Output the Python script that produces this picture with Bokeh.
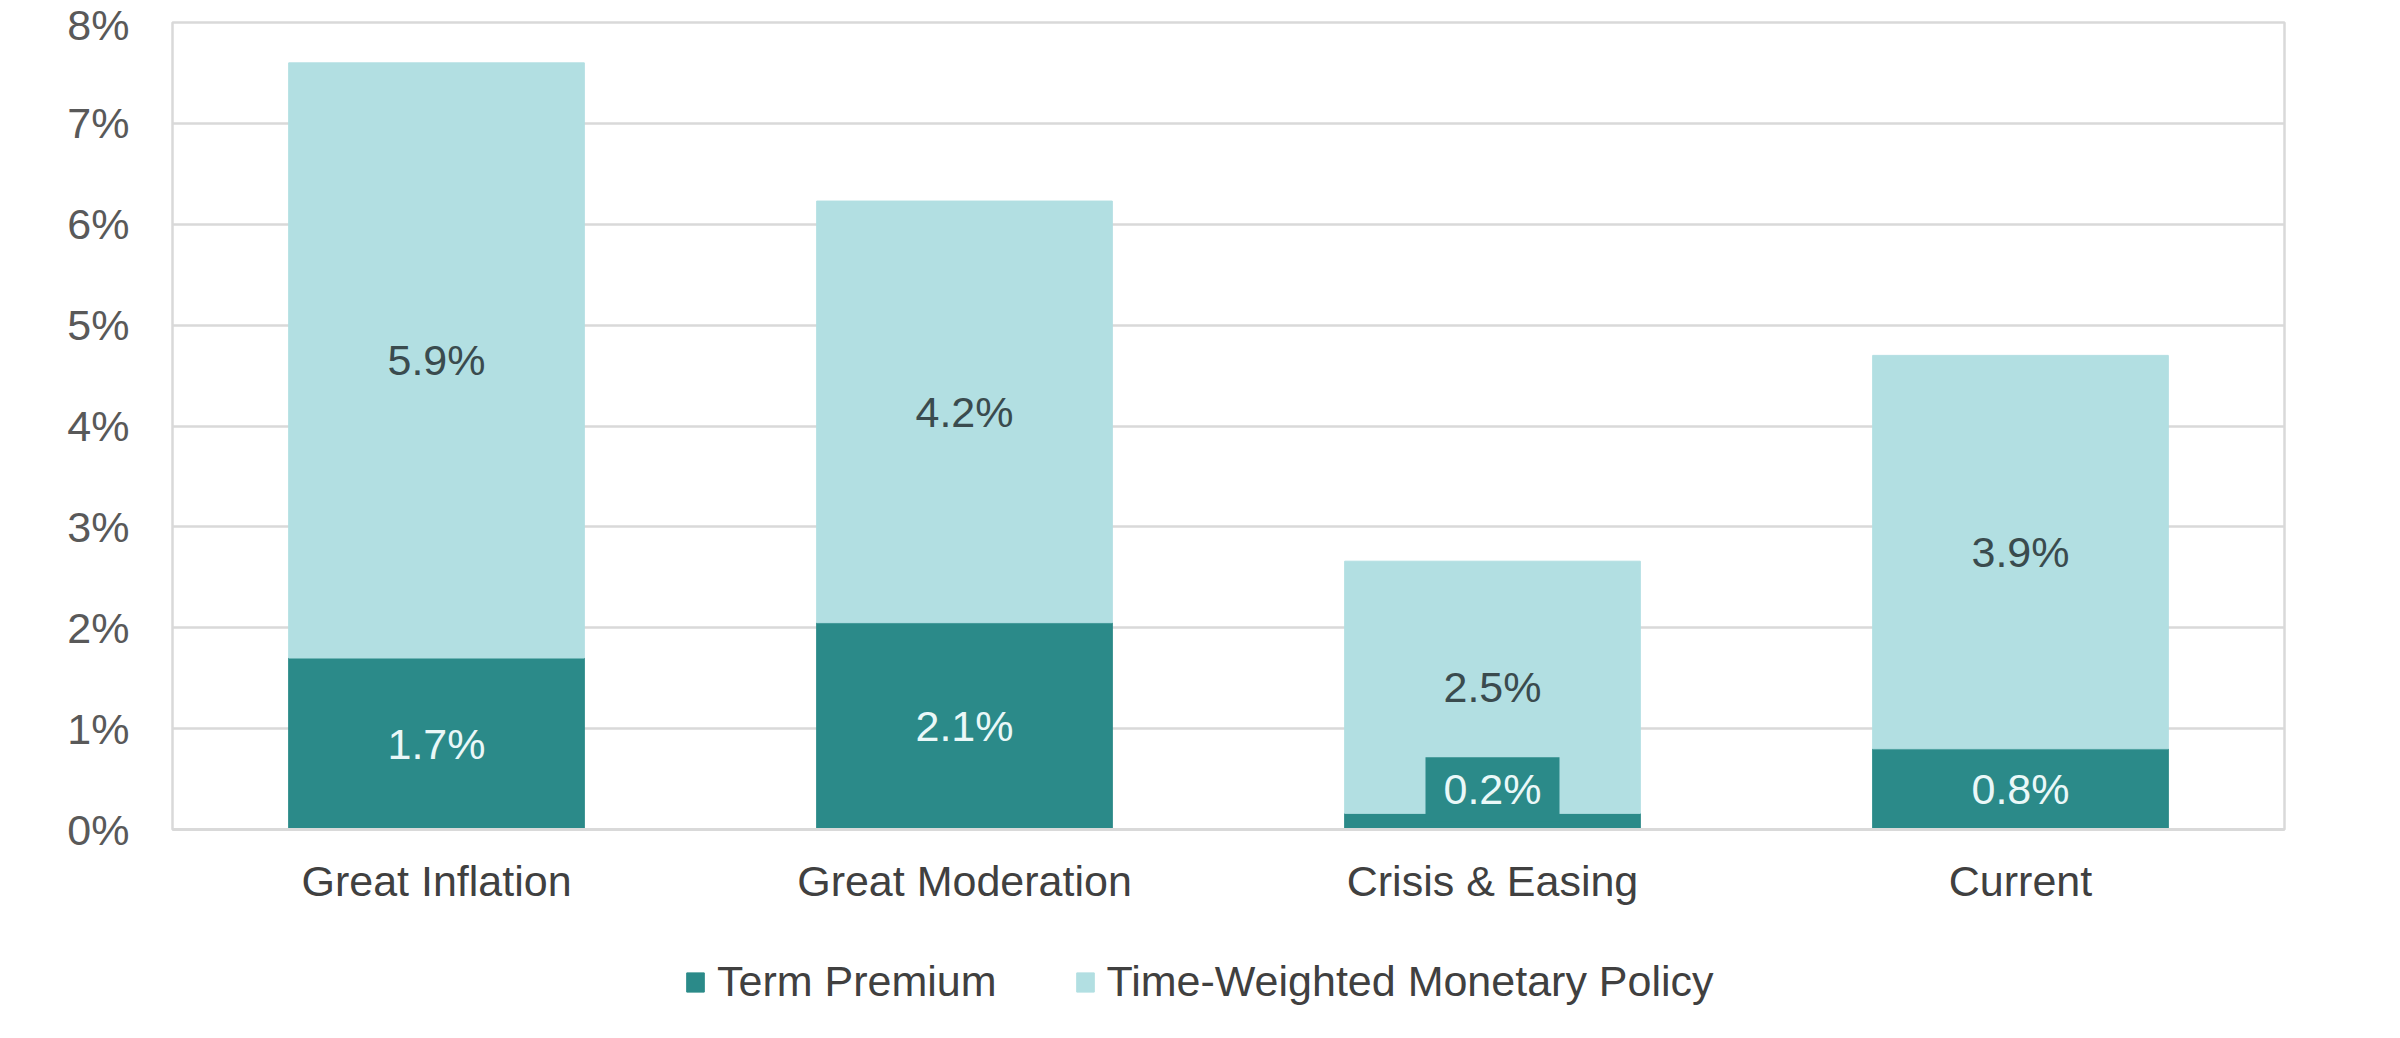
from bokeh.plotting import figure
from bokeh.layouts import column
from bokeh.models import (ColumnDataSource, Legend, LegendItem, FactorRange, Range1d,
                          PrintfTickFormatter, FixedTicker)
from bokeh.embed import file_html
from bokeh.resources import INLINE
from bokeh.core.properties import value

# ---- data ----
categories = ["Great Inflation", "Great Moderation", "Crisis & Easing", "Current"]
term_premium = [1.7, 2.05, 0.16, 0.8]
monetary_policy = [5.9, 4.18, 2.5, 3.9]
term_labels = ["1.7%", "2.1%", "0.2%", "0.8%"]
policy_labels = ["5.9%", "4.2%", "2.5%", "3.9%"]
series_names = ["Term Premium", "Time-Weighted Monetary Policy"]
y_ticks = [0, 1, 2, 3, 4, 5, 6, 7, 8]

# ---- style ----
DARK = "#2B8A89"
LIGHT = "#B2DFE2"
GRID = "#D9D9D9"
FONT = "Liberation Sans"
FS = "43px"
MIN_LABEL_Y = 0.4
W = 2384

src = ColumnDataSource(dict(cat=categories, term=term_premium, policy=monetary_policy))

p = figure(width=W, height=929, x_range=FactorRange(*categories), y_range=Range1d(0, 8),
           output_backend="svg", toolbar_location=None,
           min_border_left=172, min_border_right=100, min_border_top=22, min_border_bottom=100)

renderers = p.vbar_stack(["term", "policy"], x="cat", width=0.56, source=src,
                         fill_color=[DARK, LIGHT], line_color=[DARK, LIGHT], line_width=1)

# label box for segments too small to hold their label
small_idx = [i for i, t in enumerate(term_premium) if t / 2 < MIN_LABEL_Y]
box_src = ColumnDataSource(dict(cat=[categories[i] for i in small_idx],
                                y=[MIN_LABEL_Y for i in small_idx]))
p.rect(x="cat", y="y", width=134, height=64, width_units="screen", height_units="screen",
       source=box_src, fill_color=DARK, line_color=None)

term_src = ColumnDataSource(dict(cat=categories,
                                 y=[max(t / 2, MIN_LABEL_Y) for t in term_premium],
                                 label=term_labels))
pol_src = ColumnDataSource(dict(cat=categories,
                                y=[t + m / 2 for t, m in zip(term_premium, monetary_policy)],
                                label=policy_labels))
p.text(x="cat", y="y", text="label", source=term_src, text_align="center",
       text_baseline="middle", text_font=value(FONT), text_font_size=value(FS),
       text_color="#EAF8F8")
p.text(x="cat", y="y", text="label", source=pol_src, text_align="center",
       text_baseline="middle", text_font=value(FONT), text_font_size=value(FS),
       text_color="#3A4B4E")

# axes
p.yaxis.ticker = FixedTicker(ticks=y_ticks)
p.yaxis.formatter = PrintfTickFormatter(format="%d%%")
p.yaxis.major_label_text_font = FONT
p.yaxis.major_label_text_font_size = FS
p.yaxis.major_label_text_color = "#595959"
p.yaxis.major_label_standoff = 37
p.yaxis.major_tick_line_color = None
p.yaxis.minor_tick_line_color = None
p.yaxis.axis_line_color = None

p.xaxis.major_label_text_font = FONT
p.xaxis.major_label_text_font_size = FS
p.xaxis.major_label_text_color = "#404040"
p.xaxis.major_label_standoff = 21
p.xaxis.major_tick_line_color = None
p.xaxis.axis_line_color = GRID
p.xaxis.axis_line_width = 3

p.xgrid.grid_line_color = None
p.ygrid.grid_line_color = GRID
p.ygrid.grid_line_width = 2.5
p.outline_line_color = GRID
p.outline_line_width = 2.5
p.background_fill_color = "white"
p.border_fill_color = "white"

# ---- legend strip below the chart (proxy glyphs outside the visible range) ----
lg = figure(width=W, height=93, x_range=Range1d(0, 1), y_range=Range1d(0, 1),
            x_axis_type=None, y_axis_type=None, output_backend="svg", toolbar_location=None,
            min_border_left=0, min_border_right=0, min_border_top=0, min_border_bottom=0)
lg.grid.visible = False
lg.outline_line_color = None
proxy = ColumnDataSource(dict(x=[-5], top=[-5]))
r_term = lg.vbar(x="x", top="top", width=0.1, source=proxy, fill_color=DARK, line_color=DARK)
r_pol = lg.vbar(x="x", top="top", width=0.1, source=proxy, fill_color=LIGHT, line_color=LIGHT)

legend = Legend(items=[LegendItem(label=series_names[0], renderers=[r_term]),
                       LegendItem(label=series_names[1], renderers=[r_pol])],
                orientation="horizontal", location=(512, 16),
                label_text_font=FONT, label_text_font_size=FS, label_text_color="#404040",
                glyph_width=22, glyph_height=24, label_standoff=11, spacing=77,
                padding=0, margin=0, label_height=48, border_line_color=None,
                background_fill_alpha=0)
lg.add_layout(legend, "center")

layout = column(p, lg, spacing=0)
open("out.html", "w").write(file_html(layout, INLINE))
